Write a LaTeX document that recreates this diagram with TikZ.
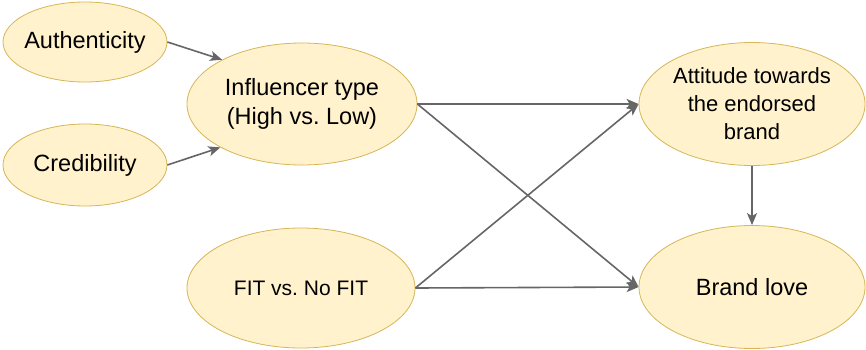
\documentclass[tikz,border=0pt]{standalone}
\usepackage{fontspec}
\setmainfont{Liberation Sans}
\usetikzlibrary{shapes, arrows.meta, calc, positioning}

\definecolor{ellfill}{RGB}{255,242,204}
\definecolor{elldraw}{RGB}{214,182,86}
\definecolor{arrgray}{RGB}{102,102,102}
\frenchspacing

\begin{document}
\begin{tikzpicture}[x=1pt, y=1pt, >={Stealth[length=12pt, width=10pt, inset=3pt]}]
	\tikzstyle{factor} = [draw=elldraw, fill=ellfill, text=black, line width=0.8pt, ellipse, inner xsep=-30pt, inner ysep=-10pt, align=center, font=\fontsize{23.5}{29}\selectfont]
	\tikzstyle{link} = [arrgray, line width=1.6pt]

	\useasboundingbox (0,0) rectangle (866,-349);

	\path[->, link]
		node[factor, minimum width=164pt, minimum height=80pt] (auth) at (85,-42) {Authenticity}
		node[factor, minimum width=164pt, minimum height=82pt] (cred) at (85,-165) {Credibility}
		node[factor, minimum width=230pt, minimum height=122pt] (infl) at (302,-104) {Influencer type\\(High vs. Low)}
		node[factor, minimum width=228pt, minimum height=120pt, font=\fontsize{21}{26}\selectfont] (fit) at (301,-288) {FIT vs. No FIT}
		node[factor, minimum width=226pt, minimum height=123pt, font=\fontsize{22}{28}\selectfont] (att) at (752,-104) {Attitude towards\\the endorsed\\brand}
		node[factor, minimum width=226pt, minimum height=123pt] (brand) at (752,-287) {Brand love}

		(auth.east) edge (infl.151)
		(cred.east) edge (infl.208)
		(infl.east) edge (att.west)
		(infl.east) edge (brand.west)
		(fit.east) edge (att.west)
		(fit.east) edge (brand.west)
		(att) edge (brand)
	;
\end{tikzpicture}
\end{document}
